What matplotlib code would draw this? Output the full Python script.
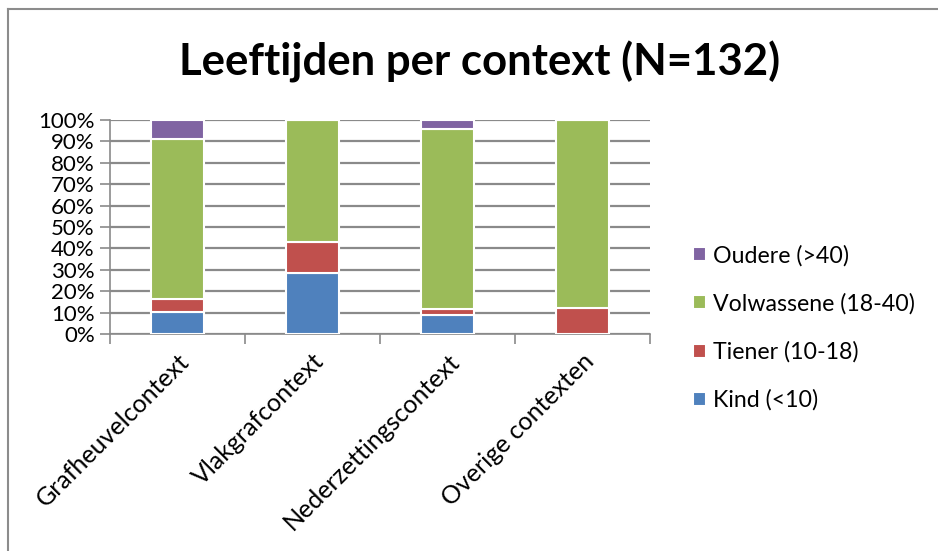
import matplotlib
matplotlib.use("Agg")
import matplotlib.pyplot as plt
from matplotlib.lines import Line2D
import numpy as np

categories = ["Grafheuvelcontext", "Vlakgrafcontext", "Nederzettingscontext", "Overige contexten"]
series_names = ["Kind (<10)", "Tiener (10-18)", "Volwassene (18-40)", "Oudere (>40)"]
kind = [10.3, 28.5, 9.0, 0.0]
tiener = [6.2, 14.3, 2.8, 12.2]
volwassene = [74.6, 57.2, 83.8, 87.8]
oudere = [8.9, 0.0, 4.4, 0.0]
colors = ["#4F81BD", "#C0504D", "#9BBB59", "#8064A2"]
yticks = [0, 10, 20, 30, 40, 50, 60, 70, 80, 90, 100]
ytick_labels = [f"{v}%" for v in yticks]
title = "Leeftijden per context (N=132)"

plt.rcParams['font.family'] = ['Lato', 'DejaVu Sans']

W, H = 938, 551
fig = plt.figure(figsize=(W / 100, H / 100), dpi=100)
ax = fig.add_axes([110 / W, 1 - 334 / H, 540 / W, 214 / H])

x = np.arange(len(categories))
bottom = np.zeros(len(categories))
handles = []
for vals, name, col in zip([kind, tiener, volwassene, oudere], series_names, colors):
    v = np.array(vals)
    b = ax.bar(x, v, width=0.39, bottom=bottom, color=col, edgecolor="white",
               linewidth=1.5, label=name, zorder=3)
    handles.append(b)
    bottom += v

ax.set_xlim(-0.5, len(categories) - 0.5)
ax.set_ylim(0, 100)
ax.set_yticks(yticks)
ax.set_yticklabels(ytick_labels, fontsize=16)
ax.yaxis.grid(True, color="#8a8a8a", linewidth=1.6, zorder=0)
ax.set_axisbelow(True)

ax.set_xticks(x)
ax.set_xticklabels(categories, rotation=45, ha="right", va="top",
                   rotation_mode="anchor", fontsize=18)
ax.set_xticks(np.arange(-0.5, len(categories)), minor=True)
ax.tick_params(axis="x", which="major", length=0, pad=11)
ax.tick_params(axis="x", which="minor", length=7, width=1.2, color="#8a8a8a")
ax.tick_params(axis="y", length=7, width=1.2, color="#8a8a8a", pad=4)

for s in ["top", "right"]:
    ax.spines[s].set_visible(False)
for s in ["left", "bottom"]:
    ax.spines[s].set_color("#8a8a8a")
    ax.spines[s].set_linewidth(1.2)

fig.text(480 / W, 1 - 62 / H, title, ha="center", va="center",
         fontsize=31.5, fontweight="bold")

leg = fig.legend(handles[::-1], series_names[::-1], loc="upper left",
                 bbox_to_anchor=(672 / W, 1 - 224 / H), frameon=False,
                 fontsize=16.7, handlelength=0.55, handleheight=0.55,
                 handletextpad=0.33, labelspacing=1.15)

# chart border (left and top)
fig.add_artist(Line2D([8 / W, 8 / W], [0, 1 - 8.5 / H], transform=fig.transFigure,
                      color="#8c8c8c", linewidth=1.5))
fig.add_artist(Line2D([8 / W, 1], [1 - 8.5 / H, 1 - 8.5 / H], transform=fig.transFigure,
                      color="#8c8c8c", linewidth=1.5))

fig.savefig("out.png", dpi=100)
